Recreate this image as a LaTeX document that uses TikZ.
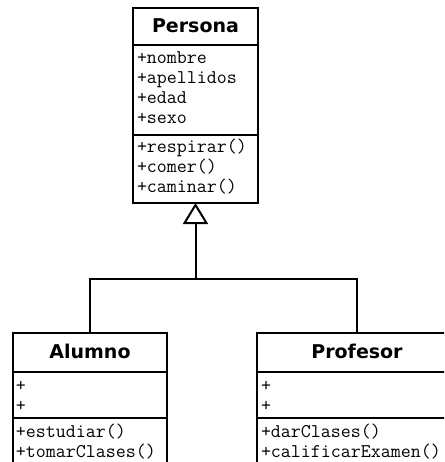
\documentclass[tikz,border=0pt]{standalone}
\usepackage{fontspec}
\usetikzlibrary{arrows.meta}
\newfontfamily\titlefont{DejaVu Sans}
\begin{document}
\begin{tikzpicture}[x=1pt,y=-1pt,
  line width=2pt,
  classbox/.style={draw, line width=2pt, outer sep=0pt, inner sep=0pt, anchor=north west},
  classname/.style={font=\titlefont\bfseries\fontsize{19}{19}\selectfont, anchor=base, inner sep=0pt},
  member/.style={font=\ttfamily\fontsize{19.4}{19.4}\selectfont, anchor=base west, inner sep=0pt},
  gen/.style={-{Triangle[open, length=21pt, width=25pt]}}]
\useasboundingbox (0,0) rectangle (444,462);
\clip (0,0) rectangle (444,462);

% Persona
\node[classbox, minimum width=125pt, minimum height=195pt] (persona) at (133,8) {};
\draw (133,45) -- (258,45);
\draw (133,135) -- (258,135);
\node[classname] (pt) at (195.5,33) {Persona};
\node[member] (p1) at (136,64) {+nombre};
\node[member] (p2) at (136,84) {+apellidos};
\node[member] (p3) at (136,104) {+edad};
\node[member] (p4) at (136,124) {+sexo};
\node[member] (p5) at (136,153) {+respirar()};
\node[member] (p6) at (136,173) {+comer()};
\node[member] (p7) at (136,193) {+caminar()};

% Alumno
\node[classbox, minimum width=154pt, minimum height=160pt] (alumno) at (13,333) {};
\draw (13,372) -- (167,372);
\draw (13,418) -- (167,418);
\node[classname] (at) at (90,358) {Alumno};
\node[member] (a1) at (15,391) {+};
\node[member] (a2) at (15,411) {+};
\node[member] (a3) at (15,437) {+estudiar()};
\node[member] (a4) at (15,457) {+tomarClases()};

% Profesor
\node[classbox, minimum width=200pt, minimum height=160pt] (profesor) at (257,333) {};
\draw (257,372) -- (457,372);
\draw (257,418) -- (457,418);
\node[classname] (prt) at (357,358) {Profesor};
\node[member] (r1) at (260,391) {+};
\node[member] (r2) at (260,411) {+};
\node[member] (r3) at (260,437) {+darClases()};
\node[member] (r4) at (260,457) {+calificarExamen()};

% generalization
\coordinate (j) at (persona.south |- 0,279);
\draw (alumno.north) |- (j) -| (profesor.north);
\draw[gen] (j) -- (persona.south);
\end{tikzpicture}
\end{document}
